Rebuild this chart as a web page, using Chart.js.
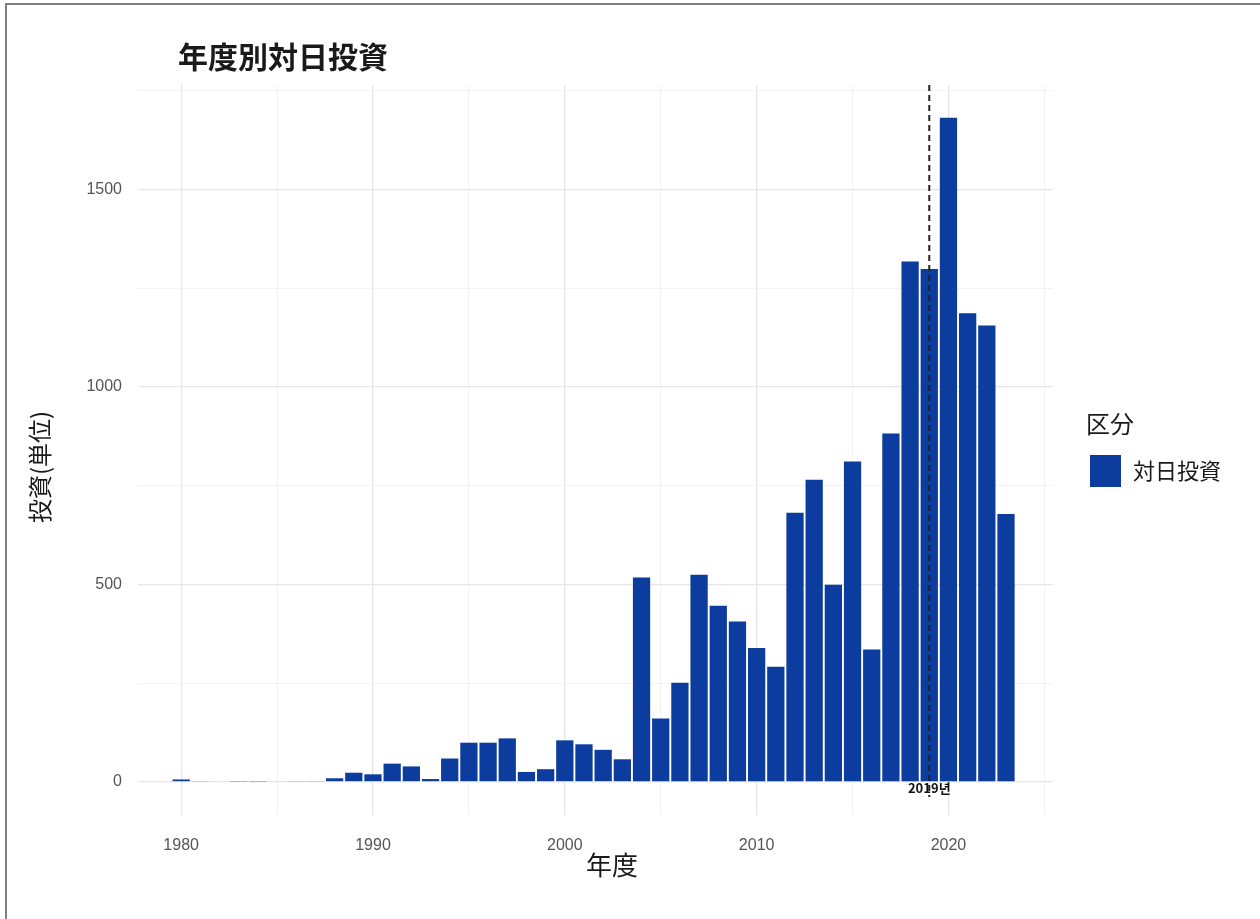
<!DOCTYPE html>
<html lang="ja">
<head>
<meta charset="UTF-8">
<title>年度別対日投資</title>
<script src="https://cdn.jsdelivr.net/npm/chart.js@4.4.1/dist/chart.umd.min.js"></script>
<style>
  html, body { margin: 0; padding: 0; background: #fff; }
  #chart { display: block; }
</style>
</head>
<body>
<canvas id="chart" width="1260" height="919"></canvas>
<script>
// data
const years = [1980, 1981, 1982, 1983, 1984, 1985, 1986, 1987, 1988, 1989,
               1990, 1991, 1992, 1993, 1994, 1995, 1996, 1997, 1998, 1999,
               2000, 2001, 2002, 2003, 2004, 2005, 2006, 2007, 2008, 2009,
               2010, 2011, 2012, 2013, 2014, 2015, 2016, 2017, 2018, 2019,
               2020, 2021, 2022, 2023];
const investment = [6, 2, 0, 1, 1, 0, 2, 2, 9, 23,
                    19, 46, 39, 7, 59, 99, 99, 110, 25, 32,
                    105, 95, 81, 57, 517, 160, 251, 524, 446, 406,
                    339, 291, 681, 765, 499, 811, 335, 882, 1317, 1298,
                    1681, 1186, 1155, 678];
const seriesName = '対日投資';
const xTicks = [1980, 1985, 1990, 1995, 2000, 2005, 2010, 2015, 2020, 2025];
const yTicks = [0, 250, 500, 750, 1000, 1250, 1500, 1750];
const markerYear = 2019;
const markerLabel = '2019년';

const barColor = '#0b3c9e';
const cjk = "'Noto Sans CJK JP', 'Noto Sans CJK KR', sans-serif";

// title, axis titles, legend, frame and the 2019 marker
const decorations = {
    id: 'decorations',
    beforeDraw(chart) {
        const ctx = chart.ctx;
        ctx.save();
        ctx.fillStyle = '#fff';
        ctx.fillRect(0, 0, chart.width, chart.height);
        ctx.strokeStyle = '#808080';
        ctx.lineWidth = 2;
        ctx.beginPath();
        ctx.moveTo(6, chart.height);
        ctx.lineTo(6, 4);
        ctx.lineTo(chart.width, 4);
        ctx.stroke();
        ctx.restore();
    },
    afterDatasetsDraw(chart) {
        const {ctx, chartArea, scales} = chart;
        const px = scales.x.getPixelForValue(markerYear);
        ctx.save();
        ctx.strokeStyle = '#222';
        ctx.lineWidth = 2;
        ctx.setLineDash([6, 4]);
        ctx.beginPath();
        ctx.moveTo(px, chartArea.top);
        ctx.lineTo(px, chartArea.bottom - 18);
        ctx.stroke();
        ctx.setLineDash([]);
        ctx.fillStyle = '#111';
        ctx.font = "bold 13px 'Noto Sans CJK KR', sans-serif";
        ctx.textAlign = 'center';
        ctx.textBaseline = 'middle';
        ctx.fillText(markerLabel, px, scales.y.getPixelForValue(-15));
        ctx.restore();
    },
    afterDraw(chart) {
        const ctx = chart.ctx;
        ctx.save();
        ctx.fillStyle = '#1a1a1a';
        ctx.textBaseline = 'middle';

        // chart title
        ctx.font = 'bold 30px ' + cjk;
        ctx.textAlign = 'left';
        ctx.fillText('年度別対日投資', 178, 57);

        // axis titles
        ctx.font = '26px ' + cjk;
        ctx.textAlign = 'center';
        ctx.fillText('年度', 612, 865);
        ctx.save();
        ctx.translate(40, 467);
        ctx.rotate(-Math.PI / 2);
        ctx.font = '24px ' + cjk;
        ctx.fillText('投資(単位)', 0, 0);
        ctx.restore();

        // legend
        ctx.textAlign = 'left';
        ctx.font = '24px ' + cjk;
        ctx.fillText('区分', 1086, 424);
        ctx.fillStyle = barColor;
        ctx.fillRect(1090, 455, 31, 32);
        ctx.fillStyle = '#1a1a1a';
        ctx.font = '22px ' + cjk;
        ctx.fillText(seriesName, 1133, 471);
        ctx.restore();
    }
};

const ctx = document.getElementById('chart').getContext('2d');
new Chart(ctx, {
    type: 'bar',
    data: {
        datasets: [{
            label: seriesName,
            data: years.map((yr, i) => ({x: yr, y: investment[i]})),
            backgroundColor: barColor,
            borderWidth: 0,
            barPercentage: 0.9,
            categoryPercentage: 1.0
        }]
    },
    options: {
        responsive: false,
        animation: false,
        layout: {
            padding: {left: 0, top: 85, right: 1260 - 1053, bottom: 0}
        },
        plugins: {
            legend: {display: false},
            tooltip: {enabled: false}
        },
        scales: {
            x: {
                type: 'linear',
                min: 1977.75,
                max: 2025.45,
                offset: false,
                afterFit(scale) { scale.height = 919 - 815; },
                afterBuildTicks(scale) { scale.ticks = xTicks.map(v => ({value: v})); },
                border: {display: false},
                grid: {
                    offset: false,
                    drawTicks: false,
                    color: c => (c.tick && c.tick.value % 10 === 0) ? '#e6e6e6' : '#f0f0f0',
                    lineWidth: c => (c.tick && c.tick.value % 10 === 0) ? 1.3 : 0.8
                },
                ticks: {
                    autoSkip: false,
                    maxRotation: 0,
                    padding: 21,
                    color: '#555',
                    font: {family: "'Liberation Sans', Arial, sans-serif", size: 16},
                    callback: v => v % 10 === 0 ? String(v) : ''
                }
            },
            y: {
                min: -84,
                max: 1764,
                afterFit(scale) { scale.width = 138; },
                afterBuildTicks(scale) { scale.ticks = yTicks.map(v => ({value: v})); },
                border: {display: false},
                grid: {
                    drawTicks: false,
                    color: c => (c.tick && c.tick.value % 500 === 0) ? '#e6e6e6' : '#f0f0f0',
                    lineWidth: c => (c.tick && c.tick.value % 500 === 0) ? 1.3 : 0.8
                },
                ticks: {
                    autoSkip: false,
                    padding: 16,
                    color: '#555',
                    font: {family: "'Liberation Sans', Arial, sans-serif", size: 16},
                    callback: v => v % 500 === 0 ? String(v) : ''
                }
            }
        }
    },
    plugins: [decorations]
});
</script>
</body>
</html>
